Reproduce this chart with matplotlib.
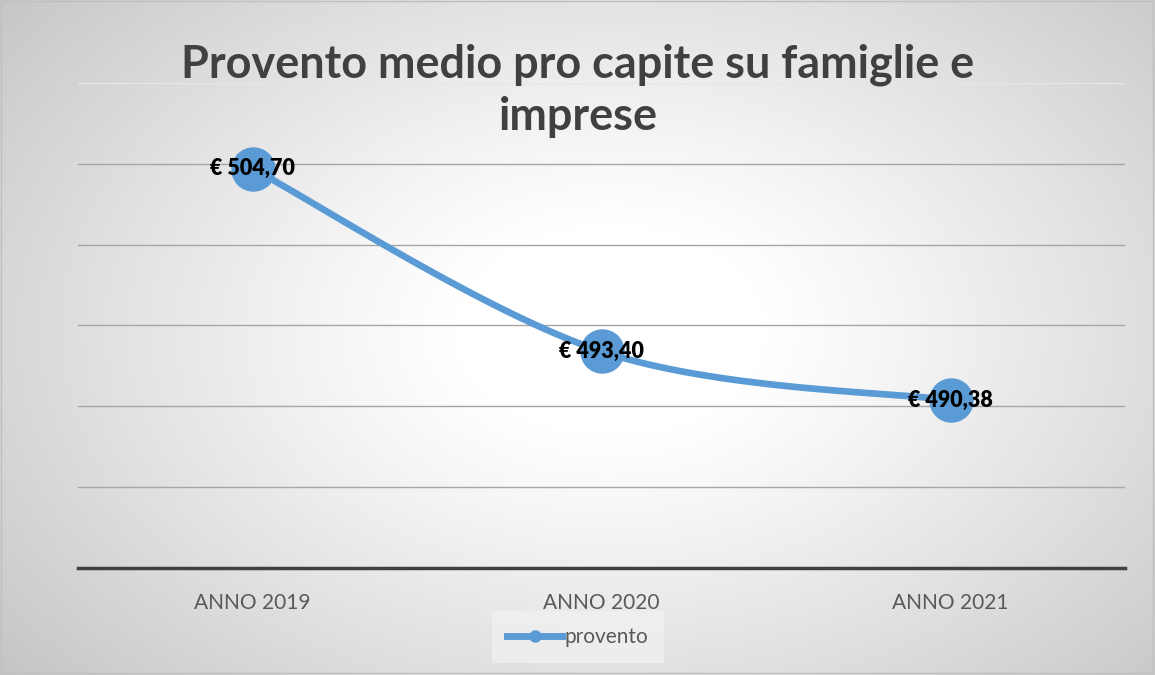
import numpy as np
import matplotlib
matplotlib.use("Agg")
import matplotlib.pyplot as plt
from matplotlib.lines import Line2D

categories = ["ANNO 2019", "ANNO 2020", "ANNO 2021"]
values = [504.70, 493.40, 490.38]
labels = ["€ 504,70", "€ 493,40", "€ 490,38"]
series_name = "provento"
title = "Provento medio pro capite su famiglie e\nimprese"

FONT = ["Lato", "DejaVu Sans"]

W, H = 1155, 675
fig = plt.figure(figsize=(W / 100, H / 100), dpi=100)

# radial gradient background
bg = fig.add_axes([0, 0, 1, 1], zorder=-10)
yy, xx = np.mgrid[0:H, 0:W]
cx, cy = 610, 330
r = np.sqrt(((xx - cx) / 620.0) ** 2 + ((yy - cy) / 420.0) ** 2)
v = 1.0 - 0.22 * np.clip(r - 0.25, 0, None) ** 1.1
v = np.clip(v, 0.76, 1.0)
img = np.dstack([v, v, v])
bg.imshow(img, extent=[0, W, H, 0], aspect="auto")
bg.set_xlim(0, W)
bg.set_ylim(H, 0)
bg.axis("off")
bg.add_patch(plt.Rectangle((1, 1), W - 3, H - 3, fill=False, edgecolor="#bfbfbf", lw=1))

ax = fig.add_axes([78 / W, (H - 568) / H, (1125 - 78) / W, (568 - 83) / H])
ax.patch.set_alpha(0)

x = np.arange(len(values))

# Excel-like smoothing (Bezier through points)
def smooth(xs, ys, n=60):
    px = np.concatenate([[xs[0]], xs, [xs[-1]]])
    py = np.concatenate([[ys[0]], ys, [ys[-1]]])
    ox, oy = [], []
    for i in range(1, len(px) - 2):
        p0 = np.array([px[i - 1], py[i - 1]])
        p1 = np.array([px[i], py[i]])
        p2 = np.array([px[i + 1], py[i + 1]])
        p3 = np.array([px[i + 2], py[i + 2]])
        c1 = p1 + (p2 - p0) / 6.0
        c2 = p2 - (p3 - p1) / 6.0
        t = np.linspace(0, 1, n)[:, None]
        b = (1 - t) ** 3 * p1 + 3 * (1 - t) ** 2 * t * c1 + 3 * (1 - t) * t ** 2 * c2 + t ** 3 * p2
        ox.extend(b[:, 0]); oy.extend(b[:, 1])
    return np.array(ox), np.array(oy)

sx, sy = smooth(x.astype(float), np.array(values))
color = "#5b9bd5"
ax.plot(sx, sy, color=color, lw=4.8, solid_capstyle="round", zorder=3)
ax.plot(x, values, "o", color=color, markersize=31, zorder=4)

for xi, yi, lab in zip(x, values, labels):
    ax.text(xi, yi, lab, ha="center", va="center", fontsize=15.5, fontweight="heavy",
            color="black", zorder=5, family=FONT)

ax.set_xlim(-0.5, 2.5)
ax.set_ylim(480, 510)
yt = [485, 490, 495, 500, 505]
for t in yt:
    ax.axhline(t, color="#a6a6a6", lw=1, zorder=1)
ax.axhline(510, color="#e6e6e6", lw=1, zorder=1)
ax.set_yticks([])
ax.set_xticks(x)
ax.set_xticklabels(categories, fontsize=15, color="#595959", family=FONT)
ax.tick_params(axis="x", length=0, pad=18)
for s in ["top", "right", "left"]:
    ax.spines[s].set_visible(False)
ax.spines["bottom"].set_color("#404040")
ax.spines["bottom"].set_linewidth(2.5)

# title
fig.text(578 / W, 1 - 91 / H, title, ha="center", va="center", fontsize=32.4,
         fontweight="bold", color="#404040", family=FONT, linespacing=1.3)

handle = Line2D([0], [0], color=color, lw=5, marker="o", markersize=8)
leg = fig.legend([handle], [series_name], loc="center", bbox_to_anchor=(578 / W, 1 - 637 / H),
                 frameon=True, prop={"family": FONT, "size": 15}, handlelength=2.6,
                 handletextpad=0.15, borderpad=0.75, borderaxespad=0)
leg.get_frame().set_facecolor("#f0f0f0")
leg.get_frame().set_edgecolor("none")
leg.get_frame().set_alpha(0.8)
leg.get_frame().set_boxstyle("square", pad=0)
for t in leg.get_texts():
    t.set_color("#595959")

fig.savefig("out.png", dpi=100)
